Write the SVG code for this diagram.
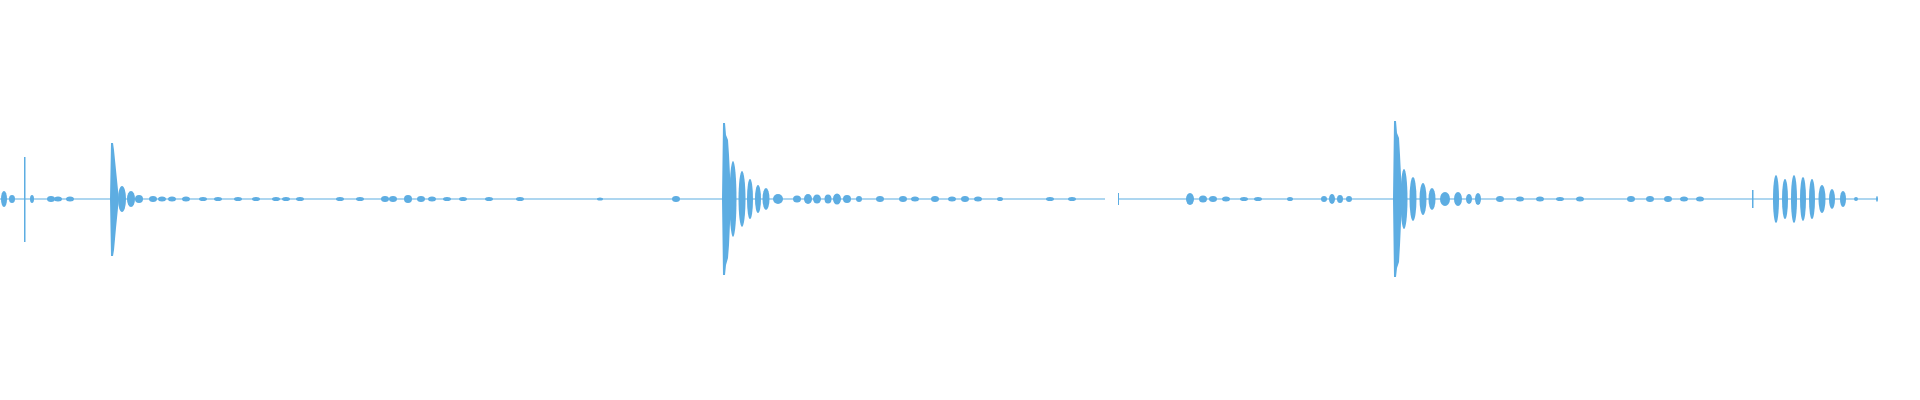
<svg xmlns="http://www.w3.org/2000/svg" width="1920" height="400" viewBox="0 0 1920 400">
<style>.w{fill:#5dade2}.b{stroke:#5dade2;stroke-width:1.2}</style>
<rect width="1920" height="400" fill="#fff"/>
<g id="waveform">
<path class="b" d="M0 199H1105M1118 199H1878"/>
<g class="w">
<rect x="24" y="157" width="1.5" height="85"/>
<polygon points="110,199 111,143 113,143 114,150 116,170 118,190 119,199 118,208 116,228 114,250 113,256 111,256"/>
<polygon points="722,199 723,123 725,123 726,135 728,140 729,155 730,175 731,199 730,223 729,245 728,258 726,265 725,275 723,275"/>
<polygon points="1393,199 1394,121 1396,121 1397,133 1399,138 1400,155 1401,175 1402,199 1401,223 1400,245 1399,262 1397,268 1396,277 1394,277"/>
<rect x="1752" y="190" width="1.5" height="18"/>
<rect x="1118" y="193" width="1" height="12"/>
<ellipse cx="4" cy="199" rx="3" ry="8"/>
<ellipse cx="12" cy="199" rx="3" ry="4"/>
<ellipse cx="32" cy="199" rx="2" ry="4"/>
<ellipse cx="51" cy="199" rx="4" ry="3"/>
<ellipse cx="58" cy="199" rx="4" ry="2.5"/>
<ellipse cx="70" cy="199" rx="4" ry="2.5"/>
<ellipse cx="122" cy="199" rx="4" ry="13"/>
<ellipse cx="131" cy="199" rx="4" ry="8"/>
<ellipse cx="139" cy="199" rx="4" ry="4"/>
<ellipse cx="153" cy="199" rx="4" ry="3"/>
<ellipse cx="162" cy="199" rx="4" ry="2.5"/>
<ellipse cx="172" cy="199" rx="4" ry="2.5"/>
<ellipse cx="186" cy="199" rx="4" ry="2.5"/>
<ellipse cx="203" cy="199" rx="4" ry="2"/>
<ellipse cx="218" cy="199" rx="4" ry="2"/>
<ellipse cx="238" cy="199" rx="4" ry="2"/>
<ellipse cx="256" cy="199" rx="4" ry="2"/>
<ellipse cx="276" cy="199" rx="4" ry="2"/>
<ellipse cx="286" cy="199" rx="4" ry="2"/>
<ellipse cx="300" cy="199" rx="4" ry="2"/>
<ellipse cx="340" cy="199" rx="4" ry="2"/>
<ellipse cx="360" cy="199" rx="4" ry="2"/>
<ellipse cx="385" cy="199" rx="4" ry="3"/>
<ellipse cx="393" cy="199" rx="4" ry="3"/>
<ellipse cx="408" cy="199" rx="4" ry="4"/>
<ellipse cx="421" cy="199" rx="4" ry="3"/>
<ellipse cx="432" cy="199" rx="4" ry="2.5"/>
<ellipse cx="447" cy="199" rx="4" ry="2"/>
<ellipse cx="463" cy="199" rx="4" ry="2"/>
<ellipse cx="489" cy="199" rx="4" ry="2"/>
<ellipse cx="520" cy="199" rx="4" ry="2"/>
<ellipse cx="600" cy="199" rx="3" ry="1.5"/>
<ellipse cx="676" cy="199" rx="4" ry="3"/>
<ellipse cx="733" cy="199" rx="3.5" ry="38"/>
<ellipse cx="742" cy="199" rx="3.5" ry="28"/>
<ellipse cx="750" cy="199" rx="3" ry="20"/>
<ellipse cx="758" cy="199" rx="3" ry="14"/>
<ellipse cx="766" cy="199" rx="3.5" ry="11"/>
<ellipse cx="778" cy="199" rx="5" ry="5"/>
<ellipse cx="797" cy="199" rx="4" ry="3.5"/>
<ellipse cx="808" cy="199" rx="4" ry="5"/>
<ellipse cx="817" cy="199" rx="4" ry="4.5"/>
<ellipse cx="828" cy="199" rx="3.5" ry="4.5"/>
<ellipse cx="837" cy="199" rx="4" ry="5.5"/>
<ellipse cx="847" cy="199" rx="4" ry="4"/>
<ellipse cx="859" cy="199" rx="3" ry="3"/>
<ellipse cx="880" cy="199" rx="4" ry="3"/>
<ellipse cx="903" cy="199" rx="4" ry="3"/>
<ellipse cx="915" cy="199" rx="4" ry="2.5"/>
<ellipse cx="935" cy="199" rx="4" ry="3"/>
<ellipse cx="952" cy="199" rx="4" ry="2.5"/>
<ellipse cx="965" cy="199" rx="4" ry="3"/>
<ellipse cx="978" cy="199" rx="4" ry="2.5"/>
<ellipse cx="1000" cy="199" rx="3" ry="2"/>
<ellipse cx="1050" cy="199" rx="4" ry="2"/>
<ellipse cx="1072" cy="199" rx="4" ry="2"/>
<ellipse cx="1190" cy="199" rx="4" ry="6"/>
<ellipse cx="1203" cy="199" rx="4" ry="3.5"/>
<ellipse cx="1213" cy="199" rx="4" ry="3"/>
<ellipse cx="1226" cy="199" rx="4" ry="2.5"/>
<ellipse cx="1244" cy="199" rx="4" ry="2"/>
<ellipse cx="1258" cy="199" rx="4" ry="2"/>
<ellipse cx="1290" cy="199" rx="3" ry="2"/>
<ellipse cx="1324" cy="199" rx="3" ry="3"/>
<ellipse cx="1332" cy="199" rx="3" ry="5"/>
<ellipse cx="1340" cy="199" rx="3" ry="4"/>
<ellipse cx="1349" cy="199" rx="3" ry="3"/>
<ellipse cx="1404" cy="199" rx="3.5" ry="30"/>
<ellipse cx="1413" cy="199" rx="3.5" ry="22"/>
<ellipse cx="1423" cy="199" rx="3.5" ry="16"/>
<ellipse cx="1432" cy="199" rx="3.5" ry="11"/>
<ellipse cx="1445" cy="199" rx="5" ry="7"/>
<ellipse cx="1458" cy="199" rx="4" ry="7"/>
<ellipse cx="1469" cy="199" rx="3" ry="5"/>
<ellipse cx="1478" cy="199" rx="3" ry="6"/>
<ellipse cx="1500" cy="199" rx="4" ry="3"/>
<ellipse cx="1520" cy="199" rx="4" ry="2.5"/>
<ellipse cx="1540" cy="199" rx="4" ry="2.5"/>
<ellipse cx="1560" cy="199" rx="4" ry="2"/>
<ellipse cx="1580" cy="199" rx="4" ry="2.5"/>
<ellipse cx="1631" cy="199" rx="4" ry="3"/>
<ellipse cx="1650" cy="199" rx="4" ry="3"/>
<ellipse cx="1668" cy="199" rx="4" ry="3"/>
<ellipse cx="1684" cy="199" rx="4" ry="2.5"/>
<ellipse cx="1700" cy="199" rx="4" ry="2.5"/>
<ellipse cx="1776" cy="199" rx="3" ry="24"/>
<ellipse cx="1785" cy="199" rx="3" ry="20"/>
<ellipse cx="1794" cy="199" rx="3" ry="24"/>
<ellipse cx="1803" cy="199" rx="3" ry="22"/>
<ellipse cx="1812" cy="199" rx="3" ry="20"/>
<ellipse cx="1822" cy="199" rx="3.5" ry="14"/>
<ellipse cx="1832" cy="199" rx="3" ry="10"/>
<ellipse cx="1843" cy="199" rx="3" ry="8"/>
<ellipse cx="1856" cy="199" rx="2" ry="2"/>
<ellipse cx="1877" cy="199" rx="1" ry="3"/>
</g>
</g>
</svg>
